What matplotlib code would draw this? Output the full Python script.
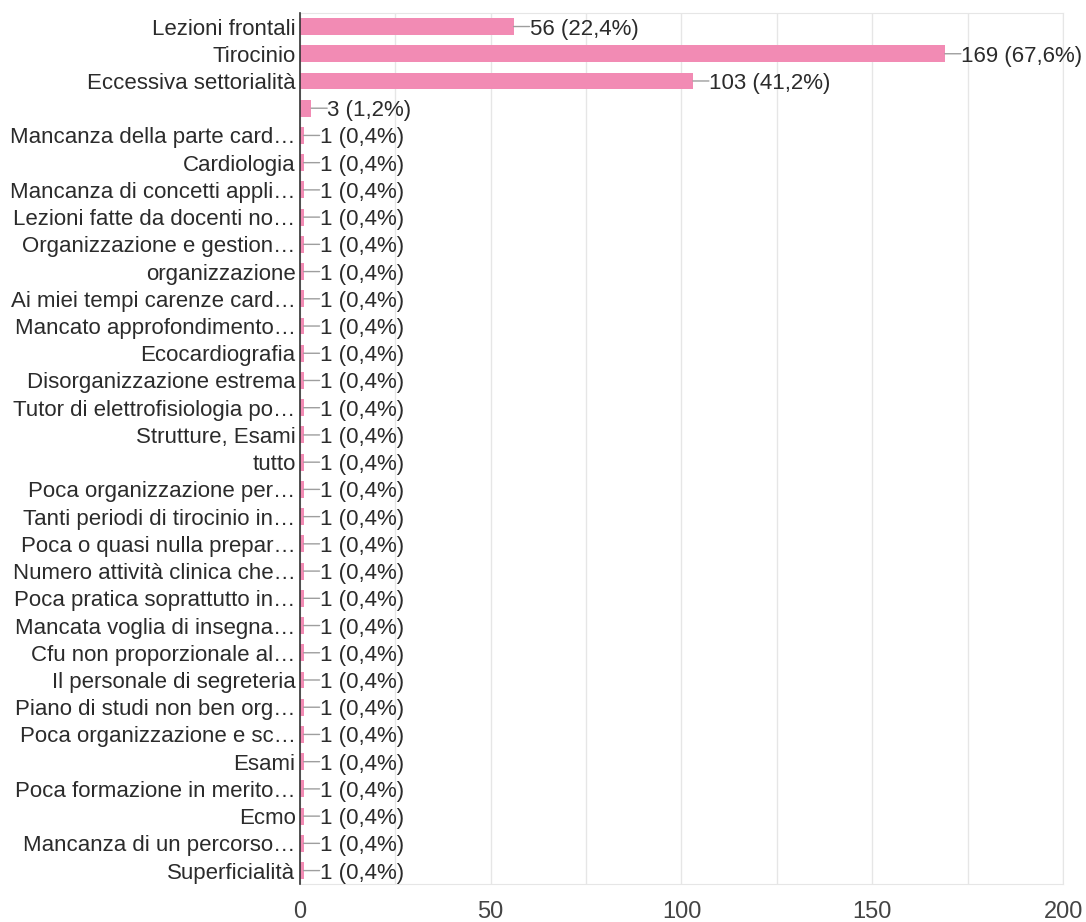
import matplotlib
matplotlib.use("Agg")
import matplotlib.pyplot as plt
from matplotlib.ticker import MultipleLocator

plt.rcParams["font.family"] = ["Liberation Sans", "DejaVu Sans"]

# ── Dati ──────────────────────────────────────────────────────────────────────
labels = [
    "Lezioni frontali", "Tirocinio", "Eccessiva settorialità", "",
    "Mancanza della parte card…", "Cardiologia", "Mancanza di concetti appli…",
    "Lezioni fatte da docenti no…", "Organizzazione e gestion…", "organizzazione",
    "Ai miei tempi carenze card…", "Mancato approfondimento…", "Ecocardiografia",
    "Disorganizzazione estrema", "Tutor di elettrofisiologia po…", "Strutture, Esami",
    "tutto", "Poca organizzazione per…", "Tanti periodi di tirocinio in…",
    "Poca o quasi nulla prepar…", "Numero attività clinica che…",
    "Poca pratica soprattutto in…", "Mancata voglia di insegna…",
    "Cfu non proporzionale al…", "Il personale di segreteria",
    "Piano di studi non ben org…", "Poca organizzazione e sc…", "Esami",
    "Poca formazione in merito…", "Ecmo", "Mancanza di un percorso…",
    "Superficialità",
]
counts = [56, 169, 103, 3] + [1] * 28
percents = ["22,4", "67,6", "41,2", "1,2"] + ["0,4"] * 28

BAR_COLOR = "#f28bb4"
TEXT_COLOR = "#2b2b2b"

fig = plt.figure(figsize=(10.86, 9.22), dpi=100)
ax = fig.add_axes([0.276, 0.041, 0.703, 0.945])

y = list(range(len(labels)))
ax.barh(y, counts, height=0.62, color=BAR_COLOR, zorder=3)

for yi, c, p in zip(y, counts, percents):
    # linea guida tra barra ed etichetta
    ax.annotate("", xy=(c, yi), xytext=(16, 0), textcoords="offset pixels",
                arrowprops=dict(arrowstyle="-", color="#9e9e9e", lw=1,
                                shrinkA=0, shrinkB=0))
    ax.annotate(f"{c} ({p}%)", xy=(c, yi), xytext=(16, 0),
                textcoords="offset pixels", va="center_baseline", ha="left",
                fontsize=16, color=TEXT_COLOR)

ax.set_yticks(y)
ax.set_yticklabels(labels, fontsize=16, color=TEXT_COLOR)
ax.set_ylim(len(labels) - 0.5, -0.5)
ax.set_xlim(0, 200)
ax.xaxis.set_major_locator(MultipleLocator(50))
ax.xaxis.set_minor_locator(MultipleLocator(25))
ax.tick_params(axis="x", which="both", length=0, labelsize=17,
               labelcolor="#444444", pad=12)
ax.tick_params(axis="y", length=0, pad=3)
ax.grid(axis="x", which="both", color="#e6e6e6", lw=1, zorder=0)

for side in ["top", "right", "bottom"]:
    ax.spines[side].set_color("#e6e6e6")
ax.spines["left"].set_color("#333333")
ax.spines["left"].set_linewidth(1.2)
ax.spines["left"].set_zorder(4)

fig.savefig("out.png", dpi=100)
